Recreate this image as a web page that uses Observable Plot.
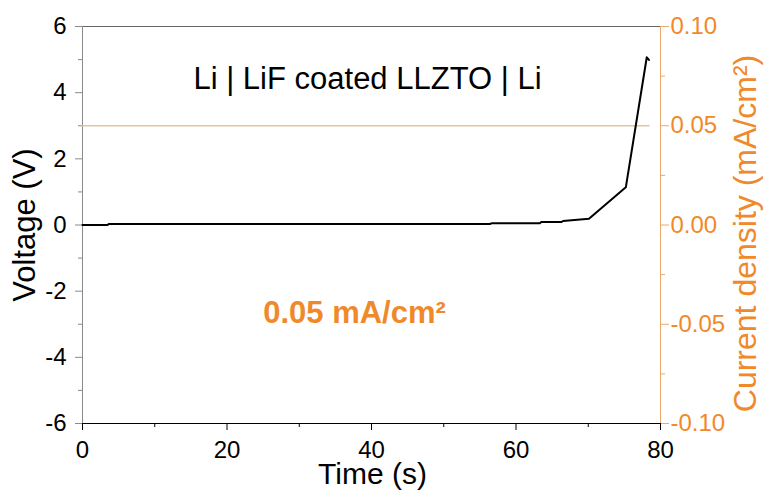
<!DOCTYPE html>
<html>
<head>
<meta charset="utf-8">
<script src="https://cdn.jsdelivr.net/npm/d3@7"></script>
<script src="https://cdn.jsdelivr.net/npm/@observablehq/plot@0.6"></script>
<style>
  html, body { margin: 0; padding: 0; background: #fff; }
</style>
</head>
<body>
<div id="chart"></div>
<script>
// Galvanostatic response of a Li | LiF-coated LLZTO | Li cell
const time =    [0, 3.5, 3.6, 56.4, 56.6, 63.3, 63.5, 66.3, 66.5, 70.1, 75.2, 78.1, 78.4];
const voltage = [0.0, 0.0, 0.03, 0.03, 0.05, 0.05, 0.09, 0.09, 0.12, 0.19, 1.14, 5.07, 4.99];

// Applied current density (right axis)
const currentTime = [0, 78.4];
const currentDensity = [0.05, 0.05];

// Axis ticks
const timeTicks = [0, 20, 40, 60, 80];
const timeMinorTicks = [10, 30, 50, 70];
const voltageTicks = [-6, -4, -2, 0, 2, 4, 6];
const voltageMinorTicks = [-5, -3, -1, 1, 3, 5];
const currentTicks = [-0.10, -0.05, 0.00, 0.05, 0.10];
const currentMinorTicks = [-0.075, -0.025, 0.025, 0.075];

// Text
const titleText = "Li | LiF coated LLZTO | Li";
const annotationText = "0.05 mA/cm²";
const xLabel = "Time (s)";
const yLabel = "Voltage (V)";
const y2Label = "Current density (mA/cm²)";

// Right axis range [-0.10, 0.10] shares the voltage scale [-6, 6]
const currentToVoltage = 6 / 0.10;

const voltageData = time.map((t, i) => ({t, v: voltage[i]}));
const currentData = currentTime.map((t, i) => ({t, c: currentDensity[i]}));

const orange = "#f0892a";
const rightAxisColor = "#e9aa6c";
const font = 'Arial, "Liberation Sans", sans-serif';

const chart = Plot.plot({
  width: 764,
  height: 490,
  marginLeft: 82,
  marginRight: 104,
  marginTop: 26,
  marginBottom: 67,
  style: {fontFamily: font, background: "#fff", overflow: "visible"},
  x: {domain: [0, 80]},
  y: {domain: [-6, 6]},
  marks: [
    // frame
    Plot.ruleY([6], {stroke: "#666"}),
    Plot.ruleX([0], {stroke: "#8a8a8a"}),
    Plot.ruleX([80], {stroke: rightAxisColor}),
    Plot.ruleY([-6], {stroke: "#000"}),

    // bottom axis
    Plot.axisX(timeTicks, {anchor: "bottom", tickSize: 7, tickPadding: 10, fontSize: 24,
      tickFormat: d => String(d), stroke: "#000", fill: "#000", label: null}),
    Plot.axisX(timeMinorTicks, {anchor: "bottom", tickSize: 4, tickFormat: () => "",
      stroke: "#000", label: null}),

    // left axis
    Plot.axisY(voltageTicks, {anchor: "left", tickSize: 7, tickPadding: 9, fontSize: 24,
      tickFormat: d => String(d), stroke: "#8a8a8a", fill: "#000", label: null}),
    Plot.axisY(voltageMinorTicks, {anchor: "left", tickSize: 4, tickFormat: () => "",
      stroke: "#8a8a8a", label: null}),

    // right axis (current density)
    Plot.axisY(currentTicks.map(c => c * currentToVoltage), {anchor: "right", tickSize: 8, tickPadding: 2,
      fontSize: 24, tickFormat: d => (d / currentToVoltage).toFixed(2),
      stroke: rightAxisColor, fill: orange, label: null}),
    Plot.axisY(currentMinorTicks.map(c => c * currentToVoltage), {anchor: "right", tickSize: 4,
      tickFormat: () => "", stroke: rightAxisColor, label: null}),

    // series
    Plot.line(currentData, {x: "t", y: d => d.c * currentToVoltage, stroke: "#e3c4a0", strokeWidth: 1.5}),
    Plot.line(voltageData, {x: "t", y: "v", stroke: "#000", strokeWidth: 2}),

    // labels
    Plot.text([titleText], {text: d => d, frameAnchor: "top", textAnchor: "middle", lineAnchor: "middle",
      dx: -4, dy: 53, fontSize: 31, fill: "#000"}),
    Plot.text([annotationText], {text: d => d, frameAnchor: "middle", textAnchor: "middle", lineAnchor: "middle",
      dx: -17, dy: 88.5, fontSize: 31, fontWeight: "bold", fill: orange}),
    Plot.text([xLabel], {text: d => d, frameAnchor: "bottom", textAnchor: "middle", lineAnchor: "middle",
      dx: 1, dy: 50.5, fontSize: 30, fill: "#000"}),
    Plot.text([yLabel], {text: d => d, frameAnchor: "left", textAnchor: "middle", lineAnchor: "middle",
      dx: -57, rotate: -90, fontSize: 31, fill: "#000"}),
    Plot.text([y2Label], {text: d => d, frameAnchor: "right", textAnchor: "middle", lineAnchor: "middle",
      dx: 85, dy: 8.5, rotate: -90, fontSize: 32, fill: orange})
  ]
});

document.getElementById("chart").appendChild(chart);
</script>
</body>
</html>
